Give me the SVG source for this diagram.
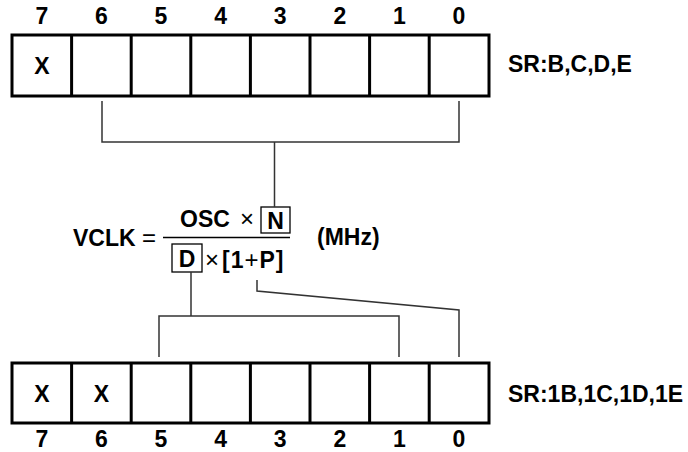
<svg xmlns="http://www.w3.org/2000/svg" width="688" height="452" viewBox="0 0 688 452">
<style>
text{font-family:"Liberation Sans",Arial,sans-serif;font-weight:bold;font-size:23px;fill:#000}
.n{text-anchor:middle}
.thin{font-weight:normal;font-size:24px}
.reg{fill:#fff;stroke:#000;stroke-width:3}
.div{stroke:#000;stroke-width:3}
.box{fill:none;stroke:#000;stroke-width:1.3}
.ln{fill:none;stroke:#333;stroke-width:1.5}
</style>
<rect width="688" height="452" fill="#fff"/>
<g id="top-register">
<rect class="reg" x="12" y="35" width="477" height="61"/>
<path class="div" d="M71.6,35V96M131.2,35V96M190.8,35V96M250.4,35V96M310,35V96M369.6,35V96M429.2,35V96"/>
<text class="n" x="41.8" y="24">7</text><text class="n" x="101.4" y="24">6</text><text class="n" x="161" y="24">5</text><text class="n" x="220.6" y="24">4</text><text class="n" x="280.2" y="24">3</text><text class="n" x="339.8" y="24">2</text><text class="n" x="399.4" y="24">1</text><text class="n" x="459" y="24">0</text>
<text class="n" x="41.8" y="74">X</text>
<text x="508" y="72">SR:B,C,D,E</text>
</g>
<g id="formula">
<text x="73" y="246">VCLK</text>
<text class="thin" x="142" y="246">=</text>
<text x="180" y="227">OSC</text>
<text class="thin" x="240" y="227">×</text>
<rect class="box" x="261" y="207" width="29" height="26"/>
<text class="n" x="275.5" y="229">N</text>
<path d="M163,237.5H290" stroke="#000" stroke-width="1.5"/>
<rect class="box" x="172" y="244" width="30" height="28"/>
<text class="n" x="187" y="267">D</text>
<text class="thin" x="205" y="268">×</text>
<text x="222" y="268" letter-spacing="1">[1<tspan class="thin">+</tspan>P]</text>
<text x="317" y="245">(MHz)</text>
</g>
<g id="bottom-register">
<rect class="reg" x="12" y="363" width="477" height="60"/>
<path class="div" d="M71.6,363V423M131.2,363V423M190.8,363V423M250.4,363V423M310,363V423M369.6,363V423M429.2,363V423"/>
<text class="n" x="41.8" y="402">X</text><text class="n" x="101.4" y="402">X</text>
<text class="n" x="41.8" y="447">7</text><text class="n" x="101.4" y="447">6</text><text class="n" x="161" y="447">5</text><text class="n" x="220.6" y="447">4</text><text class="n" x="280.2" y="447">3</text><text class="n" x="339.8" y="447">2</text><text class="n" x="399.4" y="447">1</text><text class="n" x="459" y="447">0</text>
<text x="508" y="402">SR:1B,1C,1D,1E</text>
</g>
<g id="connectors">
<path class="ln" d="M102,101V142H459V101M274.5,142V207"/>
<path class="ln" d="M191,272V316M159,357V316H399V357M257,280V291L459,310V357"/>
</g>
</svg>
